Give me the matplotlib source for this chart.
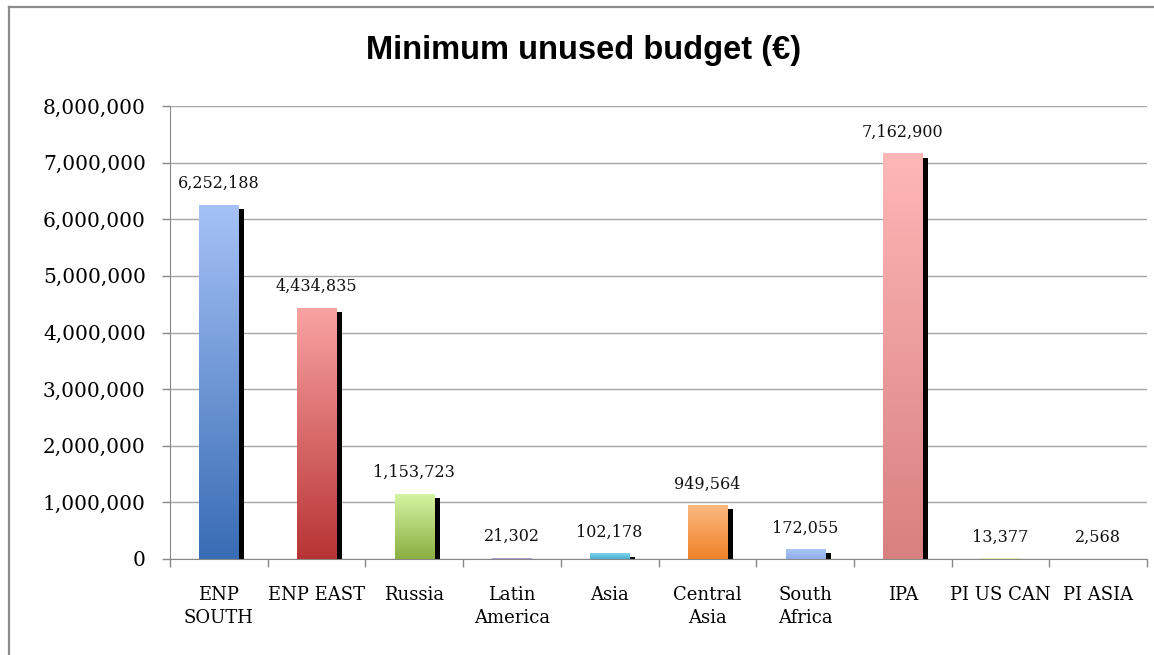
import matplotlib
matplotlib.use('Agg')
import matplotlib.pyplot as plt
import matplotlib.patheffects as pe
from matplotlib.colors import LinearSegmentedColormap
from matplotlib.lines import Line2D
from matplotlib.ticker import FuncFormatter, FixedLocator
import numpy as np

categories = ['ENP\nSOUTH', 'ENP EAST', 'Russia', 'Latin\nAmerica', 'Asia',
              'Central\nAsia', 'South\nAfrica', 'IPA', 'PI US CAN', 'PI ASIA']
values = [6252188, 4434835, 1153723, 21302, 102178, 949564, 172055,
          7162900, 13377, 2568]
# gradient colours per bar: (top, bottom)
top_colors = ['#a6c2f6', '#f9a3a3', '#d6f5a3', '#b5a6d8', '#7fd3ee',
              '#fdb982', '#abc6f6', '#ffb7b7', '#e2e9b4', '#b5a6d8']
bottom_colors = ['#386cb4', '#b83434', '#8aaf42', '#a898cc', '#4bb0cf',
                 '#ef8228', '#8eaee6', '#d88080', '#d8e0a0', '#a898cc']

serif = 'DejaVu Serif'

fig = plt.figure(figsize=(11.54, 6.55), dpi=100)
ax = fig.add_axes([170 / 1154, 96 / 655, 977 / 1154, 453 / 655])

x = np.arange(len(values))
shadow = [pe.SimplePatchShadow(offset=(4.3, -3.0), shadow_rgbFace='black', alpha=1.0),
          pe.Normal()]
bars = ax.bar(x, values, width=0.4, color=bottom_colors, zorder=2)
for bar, ct, cb in zip(bars, top_colors, bottom_colors):
    bar.set_path_effects(shadow)
    cmap = LinearSegmentedColormap.from_list('g', [cb, ct])
    grad = np.linspace(0, 1, 256).reshape(-1, 1)
    im = ax.imshow(grad, cmap=cmap, origin='lower', aspect='auto',
                   extent=[bar.get_x(), bar.get_x() + bar.get_width(), 0, bar.get_height()],
                   zorder=3)
    im.set_clip_path(bar)

for xi, v in zip(x, values):
    ax.annotate(f'{v:,}', (xi, v), xytext=(0, 12), textcoords='offset points',
                ha='center', va='baseline', fontsize=11.5, family=serif, color='#111111')

ax.set_xlim(-0.5, len(values) - 0.5)
ax.set_ylim(0, 8000000)
ax.set_yticks(np.arange(0, 8000001, 1000000))
ax.yaxis.set_major_formatter(FuncFormatter(lambda v, p: f'{int(v):,}'))
ax.set_xticks(x)
ax.set_xticklabels(categories, family=serif, fontsize=13, linespacing=1.35)
ax.xaxis.set_minor_locator(FixedLocator(np.arange(-0.5, len(values), 1.0)))
ax.tick_params(axis='x', which='major', length=0, pad=19.5)
ax.tick_params(axis='x', which='minor', length=5.5, color='#888888', width=1)
ax.tick_params(axis='y', length=5.5, color='#888888', width=1, pad=12, labelsize=14.5)
for lab in ax.get_yticklabels():
    lab.set_family(serif)

ax.yaxis.grid(True, color='#a6a6a6', linewidth=1)
ax.set_axisbelow(True)
for s in ['top', 'right']:
    ax.spines[s].set_visible(False)
ax.spines['left'].set_color('#888888')
ax.spines['bottom'].set_color('#888888')

fig.text(584 / 1154, 1 - 51 / 655, 'Minimum unused budget (€)', ha='center', va='center',
         fontsize=23.5, fontweight='bold', family='Liberation Sans')

# chart border (left and top edges visible)
fig.add_artist(Line2D([9 / 1154, 9 / 1154], [0, 1 - 7 / 655], color='#8c8c8c', lw=1.6))
fig.add_artist(Line2D([9 / 1154, 1], [1 - 7 / 655, 1 - 7 / 655], color='#8c8c8c', lw=1.6))

plt.savefig('out.png', dpi=100)
